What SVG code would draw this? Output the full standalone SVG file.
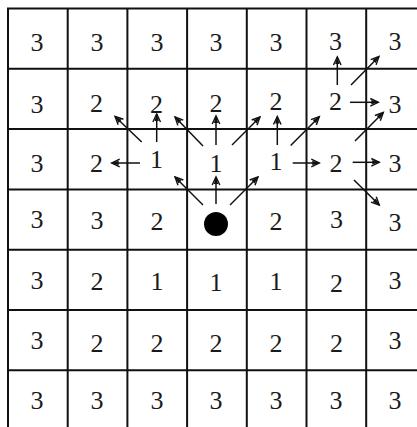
<svg xmlns="http://www.w3.org/2000/svg" width="417" height="427" viewBox="0 0 417 427">
<style>
.g{stroke:#111;stroke-width:2;fill:none}
.t{font-family:"Liberation Serif","Times New Roman",serif;font-size:26px;fill:#1a1a1a;text-anchor:middle}
.a{stroke:#111;stroke-width:1.5;fill:none;marker-end:url(#ah)}
</style>
<defs>
<marker id="ah" markerUnits="userSpaceOnUse" markerWidth="12" markerHeight="12" viewBox="-10 -6 12 12" refX="0" refY="0" orient="auto">
<path d="M-8,-3.8 L0,0 L-8,3.8" fill="none" stroke="#111" stroke-width="1.4"/>
<path d="M0,0 L-7,-2.2 L-7,2.2 Z" fill="#111"/>
</marker>
</defs>
<rect width="417" height="427" fill="#fff"/>
<g id="grid">
<path class="g" d="M8,8.5V427M67.7,8.5V427M127.4,8.5V427M187.1,8.5V427M246.8,8.5V427M306.5,8.5V427M366.2,8.5V427"/>
<path class="g" d="M7,8.5H417M7,68.8H417M7,129.1H417M7,189.4H417M7,249.7H417M7,310H417M7,370.3H417"/>
</g>
<g id="row0">
<text class="t" x="37" y="51">3</text><text class="t" x="97" y="51">3</text><text class="t" x="157" y="51">3</text><text class="t" x="216" y="51">3</text><text class="t" x="276" y="51">3</text><text class="t" x="335.5" y="50">3</text><text class="t" x="395" y="50">3</text>
</g>
<g id="row1">
<text class="t" x="37" y="113">3</text><text class="t" x="96.5" y="112">2</text><text class="t" x="156.5" y="113">2</text><text class="t" x="216" y="112">2</text><text class="t" x="276" y="110">2</text><text class="t" x="335.5" y="110">2</text><text class="t" x="395" y="113">3</text>
</g>
<g id="row2">
<text class="t" x="37" y="172">3</text><text class="t" x="96.5" y="172">2</text><text class="t" x="156.5" y="168">1</text><text class="t" x="216" y="172">1</text><text class="t" x="276" y="170">1</text><text class="t" x="336" y="172">2</text><text class="t" x="395" y="172">3</text>
</g>
<g id="row3">
<text class="t" x="37" y="228">3</text><text class="t" x="97" y="229">3</text><text class="t" x="157" y="230">2</text>
<circle id="start" cx="216" cy="224" r="12" fill="#000"/>
<text class="t" x="276" y="230">2</text><text class="t" x="336.5" y="228">3</text><text class="t" x="395" y="231">3</text>
</g>
<g id="row4">
<text class="t" x="37" y="289">3</text><text class="t" x="97" y="290">2</text><text class="t" x="157" y="290">1</text><text class="t" x="216" y="291">1</text><text class="t" x="276" y="290">1</text><text class="t" x="336.5" y="292">2</text><text class="t" x="395" y="289">3</text>
</g>
<g id="row5">
<text class="t" x="37" y="349">3</text><text class="t" x="97" y="352">2</text><text class="t" x="157" y="352">2</text><text class="t" x="216" y="352">2</text><text class="t" x="276" y="352">2</text><text class="t" x="336.5" y="352">2</text><text class="t" x="395" y="349">3</text>
</g>
<g id="row6">
<text class="t" x="37" y="409">3</text><text class="t" x="97" y="409">3</text><text class="t" x="157" y="409">3</text><text class="t" x="216" y="409">3</text><text class="t" x="276" y="409">3</text><text class="t" x="336" y="409">3</text><text class="t" x="395" y="409">3</text>
</g>
<g id="connectors">
<line class="a" x1="216" y1="204" x2="216" y2="177"/>
<line class="a" x1="203" y1="205" x2="175" y2="177"/>
<line class="a" x1="230" y1="205" x2="258" y2="177"/>
<line class="a" x1="216" y1="145" x2="216" y2="116"/>
<line class="a" x1="203" y1="146" x2="175" y2="117"/>
<line class="a" x1="232" y1="145" x2="260" y2="117"/>
<line class="a" x1="156.7" y1="142" x2="156.7" y2="114"/>
<line class="a" x1="141.7" y1="142" x2="115" y2="116.5"/>
<line class="a" x1="140" y1="163" x2="111.7" y2="163"/>
<line class="a" x1="277.3" y1="145" x2="277.3" y2="116.5"/>
<line class="a" x1="290.7" y1="145.5" x2="319.3" y2="116.7"/>
<line class="a" x1="292.7" y1="163" x2="319.3" y2="163"/>
<line class="a" x1="352.7" y1="162.3" x2="379.3" y2="162.3"/>
<line class="a" x1="355" y1="141" x2="383.3" y2="112.5"/>
<line class="a" x1="354" y1="180" x2="379.3" y2="205"/>
<line class="a" x1="337.3" y1="85" x2="337.3" y2="57"/>
<line class="a" x1="351" y1="85" x2="379" y2="56.5"/>
<line class="a" x1="350" y1="102.3" x2="378.3" y2="102.3"/>
</g>
</svg>
